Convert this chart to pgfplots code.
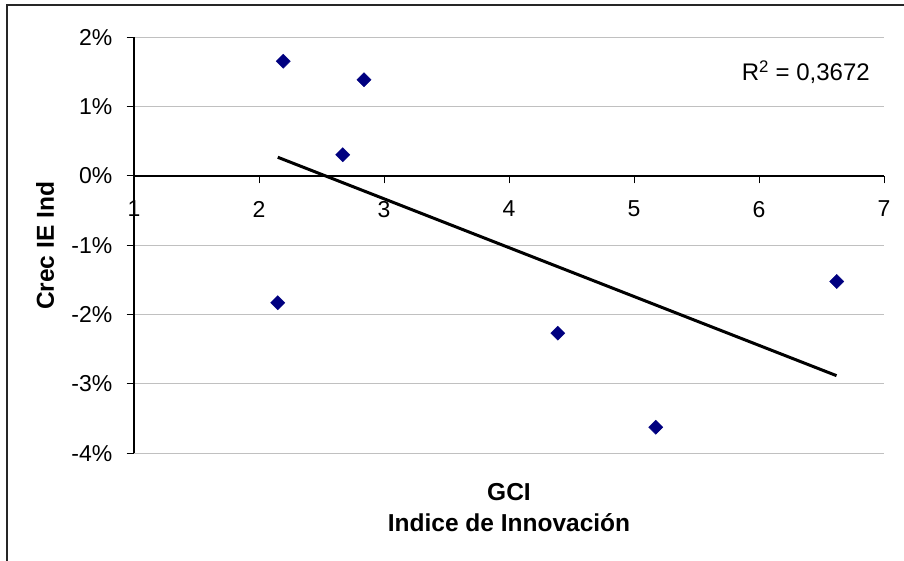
\documentclass[border=0pt]{standalone}
\usepackage{fontspec}
\setmainfont{Liberation Sans}
\usepackage{pgfplots}
\pgfplotsset{compat=1.18}
\definecolor{navy}{RGB}{0,0,128}
\definecolor{gridgray}{RGB}{192,192,192}
\begin{document}
\begin{tikzpicture}[x=1bp,y=1bp]
\fill[white] (0,0) rectangle (904,-561);
\useasboundingbox (0,0) rectangle (904,-561);
\draw[line width=2bp, black!85] (7,-561) -- (7,-5) -- (904,-5);
\begin{axis}[
    at={(134bp,-453.3bp)}, anchor=south west,
    scale only axis, width=750bp, height=416bp,
    xmin=1, xmax=7, ymin=-4, ymax=2,
    axis x line=middle, axis y line=left,
    axis line style={-, line width=1.3bp},
    hide obscured x ticks=false, hide obscured y ticks=false,
    tick align=outside, major tick length=7.5bp,
    tick style={black, line width=1bp},
    xtick={1,...,7}, ytick={-4,...,2},
    xticklabels={1,2,3,4,5,6,7},
    yticklabels={-4\%,-3\%,-2\%,-1\%,0\%,1\%,2\%},
    ymajorgrids, grid style={gridgray, line width=1bp},
    tick label style={font=\fontsize{23bp}{27bp}\selectfont},
    xticklabel style={anchor=north, inner sep=0pt, yshift=-17.5bp},
    yticklabel style={anchor=east, inner sep=0pt, xshift=-14bp},
    clip=false,
]
% trendline
\addplot[black, line width=3bp, no marks] coordinates {(2.15,0.27) (6.62,-2.88)};
% data
\addplot[only marks, mark=square*, mark size=5bp,
    mark options={rotate=45, fill=navy, draw=navy}] coordinates {
    (2.194,1.656) (2.84,1.388) (2.67,0.306) (2.15,-1.829)
    (4.39,-2.267) (5.174,-3.623) (6.622,-1.522)};
\end{axis}
\node[anchor=base east, inner sep=0pt, font=\fontsize{24bp}{28bp}\selectfont] at (870,-81) {R\textsuperscript{2} = 0,3672};
\node[anchor=base, inner sep=0pt, font=\fontsize{24.5bp}{28bp}\selectfont\bfseries] at (509,-500) {GCI};
\node[anchor=base, inner sep=0pt, font=\fontsize{24.5bp}{28bp}\selectfont\bfseries] at (509,-531) {Indice de Innovación};
\node[rotate=90, inner sep=0pt, font=\fontsize{24.5bp}{28bp}\selectfont\bfseries] at (45,-246) {Crec IE Ind};
\end{tikzpicture}
\end{document}
